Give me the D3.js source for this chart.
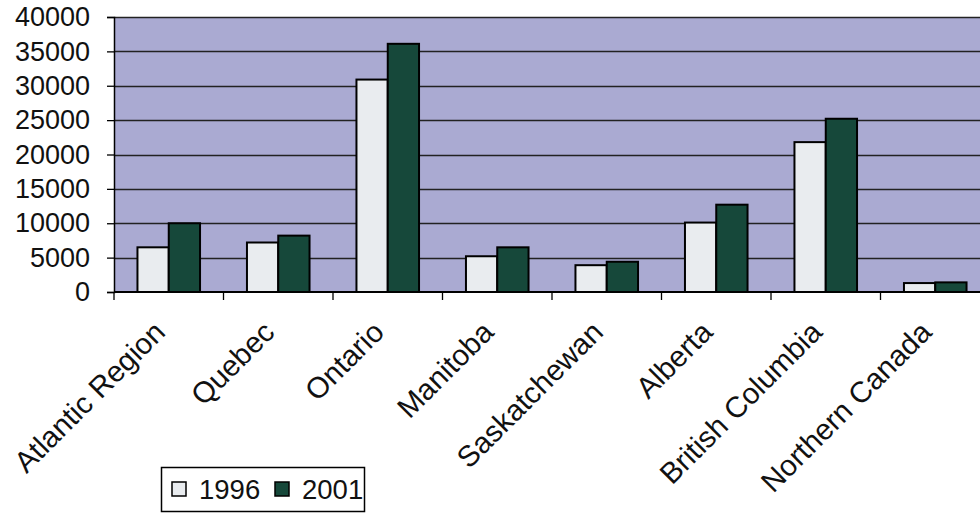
<!DOCTYPE html>
<html>
<head>
<meta charset="utf-8">
<script src="https://cdnjs.cloudflare.com/ajax/libs/d3/7.8.5/d3.min.js"></script>
<style>
  html, body { margin: 0; padding: 0; background: #ffffff; }
  svg { display: block; }
  text { font-family: "Liberation Sans", Arial, sans-serif; fill: #111; }
</style>
</head>
<body>
<svg id="chart" width="980" height="513"></svg>
<script>
// Regions and annual totals for the two census years
const regions = ["Atlantic Region", "Quebec", "Ontario", "Manitoba", "Saskatchewan",
                 "Alberta", "British Columbia", "Northern Canada"];
const years = ["1996", "2001"];
const values1996 = [6500, 7200, 30900, 5200, 3900, 10100, 21800, 1300];
const values2001 = [10000, 8200, 36100, 6500, 4400, 12700, 25200, 1400];
const yTicks = [0, 5000, 10000, 15000, 20000, 25000, 30000, 35000, 40000];

const colors = { "1996": "#e9ecef", "2001": "#16483a" };

const svg = d3.select("#chart");
const plot = { left: 114, right: 990, top: 17, bottom: 292 };

const x0 = d3.scaleBand().domain(regions).range([plot.left, plot.right]).paddingInner(0).paddingOuter(0);
const x1 = d3.scaleBand().domain(years).range([0, x0.bandwidth()]).paddingInner(0).paddingOuter(0.75);
const y = d3.scaleLinear().domain([0, 40000]).range([plot.bottom, plot.top]);

// Plot background
svg.append("rect")
  .attr("x", plot.left).attr("y", plot.top)
  .attr("width", plot.right - plot.left).attr("height", plot.bottom - plot.top)
  .attr("fill", "#aaaad2");

// Horizontal gridlines
svg.append("g").selectAll("line").data(yTicks.filter(d => d > 0)).join("line")
  .attr("x1", plot.left).attr("x2", plot.right)
  .attr("y1", d => Math.round(y(d)) + 0.5).attr("y2", d => Math.round(y(d)) + 0.5)
  .attr("stroke", "#222").attr("stroke-width", 1.3);

// Bars
const rows = regions.map((r, i) => ({ region: r, "1996": values1996[i], "2001": values2001[i] }));
const groups = svg.append("g").selectAll("g").data(rows).join("g")
  .attr("transform", d => `translate(${x0(d.region)},0)`);
groups.selectAll("rect").data(d => years.map(k => ({ key: k, value: d[k] }))).join("rect")
  .attr("x", d => x1(d.key))
  .attr("y", d => y(d.value))
  .attr("width", x1.bandwidth())
  .attr("height", d => y(0) - y(d.value))
  .attr("fill", d => colors[d.key])
  .attr("stroke", "#000").attr("stroke-width", 2);

// Y axis
const yAxis = svg.append("g")
  .attr("transform", `translate(${plot.left},0)`)
  .call(d3.axisLeft(y).tickValues(yTicks).tickSize(7).tickPadding(17).tickFormat(d3.format("d")));
yAxis.select(".domain").attr("stroke", "#000").attr("stroke-width", 1.5);
yAxis.selectAll(".tick line").attr("stroke", "#000").attr("stroke-width", 1.3);
yAxis.selectAll(".tick text")
  .attr("font-size", 27).attr("fill", "#111")
  .style("font-family", "'Liberation Sans', Arial, sans-serif");

// X axis with category dividers
const xAxis = svg.append("g").attr("transform", `translate(0,${plot.bottom})`);
xAxis.append("line")
  .attr("x1", plot.left).attr("x2", plot.right).attr("y1", 0).attr("y2", 0)
  .attr("stroke", "#000").attr("stroke-width", 2);
const dividers = regions.map(r => x0(r)).concat([plot.right]);
xAxis.selectAll("line.div").data(dividers).join("line")
  .attr("class", "div")
  .attr("x1", d => d).attr("x2", d => d).attr("y1", 0).attr("y2", 8)
  .attr("stroke", "#000").attr("stroke-width", 1.3);

// Rotated category labels
svg.append("g").selectAll("text").data(regions).join("text")
  .attr("transform", d => `translate(${x0(d) + x0.bandwidth() / 2 - 2},${334}) rotate(-45)`)
  .attr("text-anchor", "end")
  .attr("font-size", 29.5)
  .text(d => d);

// Legend
const legend = svg.append("g");
legend.append("rect")
  .attr("x", 161.5).attr("y", 467.5).attr("width", 203).attr("height", 44)
  .attr("fill", "#fff").attr("stroke", "#000").attr("stroke-width", 1.5);
const lx = [172, 275];
years.forEach((k, i) => {
  legend.append("rect")
    .attr("x", lx[i]).attr("y", 482).attr("width", 14).attr("height", 14)
    .attr("fill", colors[k]).attr("stroke", "#000").attr("stroke-width", 1.5);
  legend.append("text")
    .attr("x", lx[i] + 27).attr("y", 499)
    .attr("font-size", 27.5)
    .text(k);
});
</script>
</body>
</html>
